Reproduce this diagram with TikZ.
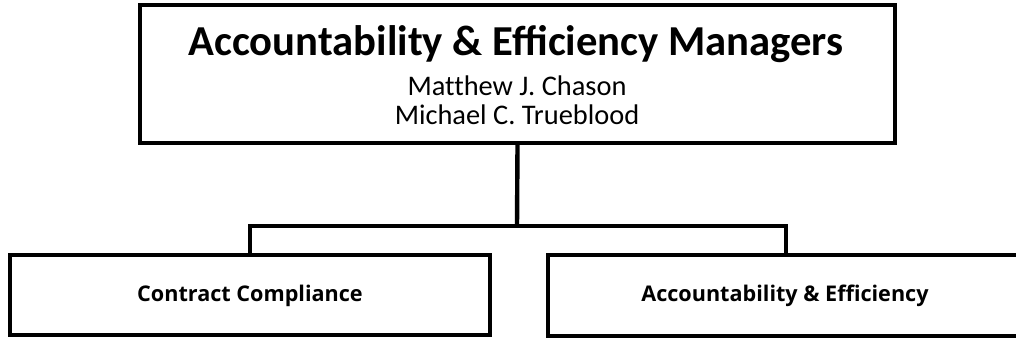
\documentclass[tikz,border=0pt]{standalone}
\usepackage{fontspec}
\setmainfont{Carlito}
\newfontfamily\boxfont{Open Sans}
\begin{document}
\begin{tikzpicture}[x=0.75pt,y=-0.75pt,
  boxline/.style={draw=black,line width=3.3pt},
  conn/.style={draw=black,line width=3.3pt},
  title/.style={font=\fontsize{32}{38}\selectfont\bfseries,anchor=base,inner sep=0pt},
  names/.style={font=\fontsize{21.3}{25}\selectfont\addfontfeatures{Ligatures=NoCommon},anchor=base,inner sep=0pt},
  sub/.style={font=\boxfont\fontsize{16.2}{19}\selectfont\bfseries,anchor=center,inner sep=0pt}]
\useasboundingbox (0,0) rectangle (1016,339);
\fill[white] (0,0) rectangle (1016,339);
% boxes
\node[boxline,minimum width=755*0.75pt,minimum height=138*0.75pt,inner sep=0pt] (top) at (517.5,74) {};
\node[boxline,minimum width=480*0.75pt,minimum height=80*0.75pt,inner sep=0pt] (left) at (250,295) {};
\node[boxline,minimum width=474*0.75pt,minimum height=81*0.75pt,inner sep=0pt] (right) at (785,295.5) {};
% texts
\node[title] (t1) at (516,55) {Accountability \& Efficiency Managers};
\node[names] (t2) at (517,95) {Matthew J. Chason};
\node[names] (t3) at (517,124) {Michael C. Trueblood};
\node[sub] (l1) at (250,296) {Contract Compliance};
\node[sub] (r1) at (785,296) {Accountability \& Efficiency};
% connectors
\coordinate (mid) at (517,226);
\draw[conn] (top.south) -- (mid);
\draw[conn] (left.north -| 250,0) |- (mid) -| (right.north -| 786,0);
\end{tikzpicture}
\end{document}
